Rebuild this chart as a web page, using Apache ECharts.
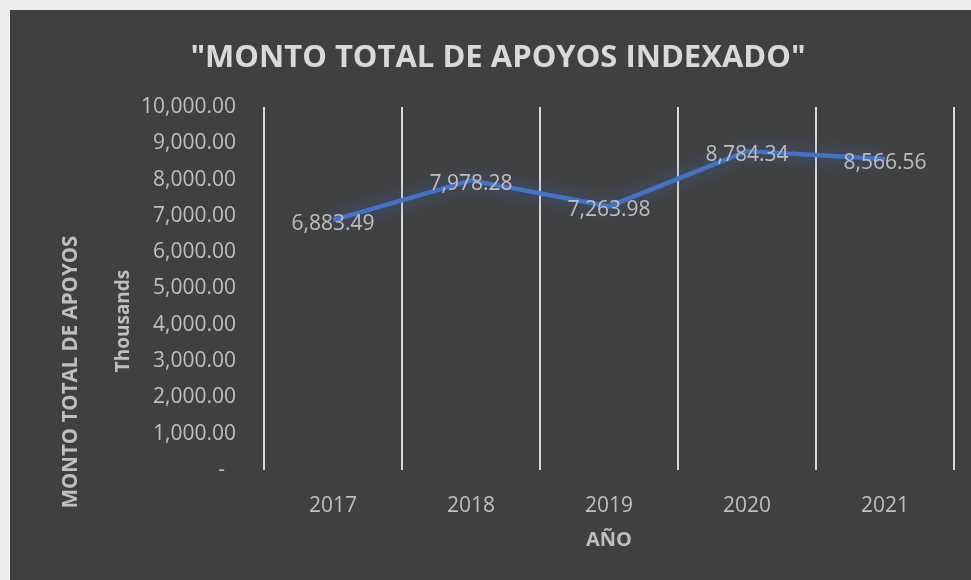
<!DOCTYPE html>
<html>
<head>
<meta charset="utf-8">
<script src="https://cdn.jsdelivr.net/npm/echarts@6/dist/echarts.min.js"></script>
<style>
  html, body { margin: 0; padding: 0; background: #eeeef0; }
  #chart { position: absolute; left: 10px; top: 10px; width: 961px; height: 570px; }
</style>
</head>
<body>
<div id="chart"></div>
<script>
const categories = ['2017', '2018', '2019', '2020', '2021'];
const values = [6883.49, 7978.28, 7263.98, 8784.34, 8566.56];
const titleText = '"MONTO TOTAL DE APOYOS INDEXADO"';
const yAxisTitle = 'MONTO TOTAL DE APOYOS';
const unitText = 'Thousands';
const xAxisTitle = 'AÑO';

const fmt = v => v.toLocaleString('en-US', { minimumFractionDigits: 2, maximumFractionDigits: 2 });
const FONT = '"Open Sans", "Noto Sans", sans-serif';

const chart = echarts.init(document.getElementById('chart'));
chart.setOption({
  backgroundColor: '#404040',
  animation: false,
  grid: { left: 254, right: 17, top: 97, bottom: 110 },
  xAxis: {
    type: 'category',
    data: categories,
    boundaryGap: true,
    axisLine: { show: false },
    axisTick: { show: false },
    splitLine: { show: true, interval: 0, lineStyle: { color: '#d9d9d9', width: 2 } },
    axisLabel: { color: '#bfbfbf', fontSize: 21, fontFamily: FONT, margin: 26 }
  },
  yAxis: {
    type: 'value',
    min: 0, max: 10000, interval: 1000,
    axisLine: { show: false },
    axisTick: { show: false },
    splitLine: { show: false },
    axisLabel: {
      color: '#bfbfbf', fontSize: 21, fontFamily: FONT, margin: 28,
      formatter: v => v === 0 ? '{z|-}' : fmt(v),
      rich: { z: { color: '#bfbfbf', fontSize: 21, fontFamily: FONT, padding: [0, 11, 0, 0] } }
    }
  },
  graphic: [
    { type: 'text', x: 488, y: 48, style: { text: titleText, fill: '#d9d9d9', font: 'bold 31px ' + FONT, textAlign: 'center', textVerticalAlign: 'middle' } },
    { type: 'text', x: 61, y: 362, rotation: Math.PI / 2, style: { text: yAxisTitle, fill: '#bfbfbf', font: 'bold 20.5px ' + FONT, textAlign: 'center', textVerticalAlign: 'middle' } },
    { type: 'text', x: 114, y: 311, rotation: Math.PI / 2, style: { text: unitText, fill: '#bfbfbf', font: 'bold 19px ' + FONT, textAlign: 'center', textVerticalAlign: 'middle' } },
    { type: 'text', x: 599, y: 530, style: { text: xAxisTitle, fill: '#bfbfbf', font: 'bold 20px ' + FONT, textAlign: 'center', textVerticalAlign: 'middle' } }
  ],
  series: [{
    type: 'line',
    data: values,
    symbol: 'circle',
    symbolSize: 0.1,
    itemStyle: { color: 'rgba(0,0,0,0)', borderWidth: 0 },
    lineStyle: { color: '#4472C4', width: 4.5, shadowColor: 'rgba(68,114,196,0.8)', shadowBlur: 18 },
    label: {
      show: true, position: 'inside', offset: [0, 4],
      color: '#bfbfbf', fontSize: 21, fontFamily: FONT,
      formatter: p => fmt(p.value)
    }
  }]
});
</script>
</body>
</html>
